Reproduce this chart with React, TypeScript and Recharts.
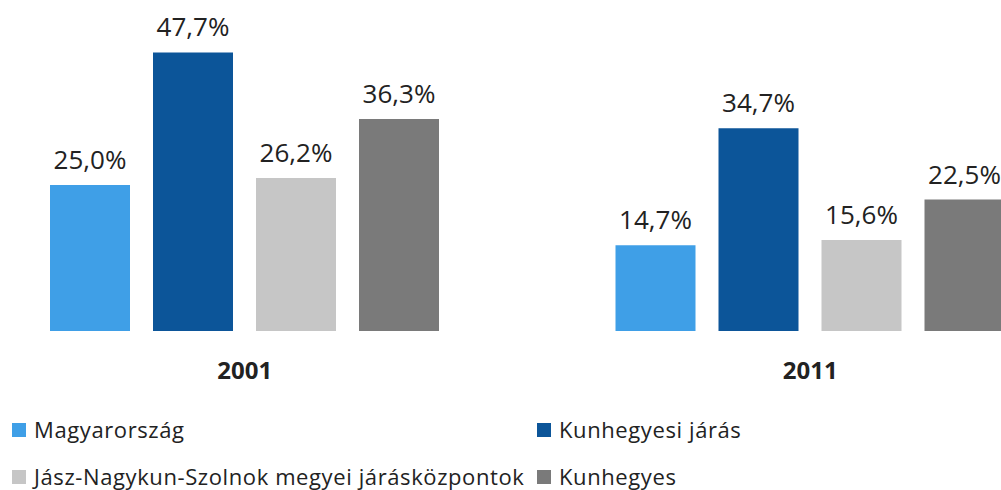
import { Bar, BarChart, LabelList, XAxis, YAxis } from "recharts";

const years = ["2001", "2011"];
const seriesNames = [
  "Magyarország",
  "Kunhegyesi járás",
  "Jász-Nagykun-Szolnok megyei járásközpontok",
  "Kunhegyes",
];
const magyarorszag = [25.0, 14.7];
const kunhegyesiJaras = [47.7, 34.7];
const megyeiKozpontok = [26.2, 15.6];
const kunhegyes = [36.3, 22.5];

const COLORS = ["#3f9fe7", "#0c5599", "#c6c6c6", "#7a7a7a"];
const KEYS = ["s0", "s1", "s2", "s3"];
const FONT = "'Open Sans', 'Liberation Sans', sans-serif";

const data = years.map((year, i) => ({
  year,
  s0: magyarorszag[i],
  s1: kunhegyesiJaras[i],
  s2: megyeiKozpontok[i],
  s3: kunhegyes[i],
}));

const fmt = (v: any) => `${Number(v).toFixed(1).replace(".", ",")}%`;

// legend laid out by hand, two columns like the original
const legendPos = [
  { left: 12, top: 418 },
  { left: 537, top: 418 },
  { left: 12, top: 465 },
  { left: 537, top: 465 },
];

export default function App() {
  return (
    <div
      style={{
        position: "fixed",
        left: 0,
        top: 0,
        width: 1001,
        height: 490,
        overflow: "hidden",
        background: "#fff",
        fontFamily: FONT,
      }}
    >
      <div style={{ position: "absolute", left: -38, top: 0 }}>
        <BarChart
          width={1131}
          height={400}
          data={data}
          margin={{ top: 39, right: 0, left: 0, bottom: 29 }}
          barSize={80}
          barGap={23}
        >
          <XAxis
            dataKey="year"
            height={40}
            axisLine={false}
            tickLine={false}
            tickSize={0}
            tickMargin={31}
            tick={{ fontSize: 24, fontWeight: 700, fill: "#222", fontFamily: FONT }}
          />
          <YAxis hide domain={[0, 50]} />
          {KEYS.map((k, i) => (
            <Bar key={k} dataKey={k} name={seriesNames[i]} fill={COLORS[i]} isAnimationActive={false}>
              <LabelList
                dataKey={k}
                position="top"
                offset={16}
                formatter={fmt}
                style={{ fontSize: 26, fill: "#222", fontFamily: FONT }}
              />
            </Bar>
          ))}
        </BarChart>
      </div>
      {seriesNames.map((name, i) => (
        <div
          key={name}
          style={{
            position: "absolute",
            left: legendPos[i].left,
            top: legendPos[i].top,
            display: "flex",
            alignItems: "center",
            fontSize: 22,
            lineHeight: "22px",
            letterSpacing: 0.6,
            color: "#222",
            whiteSpace: "nowrap",
          }}
        >
          <span
            style={{
              display: "inline-block",
              width: 14,
              height: 14,
              background: COLORS[i],
              marginRight: 8,
              marginTop: 2,
            }}
          />
          {name}
        </div>
      ))}
    </div>
  );
}
